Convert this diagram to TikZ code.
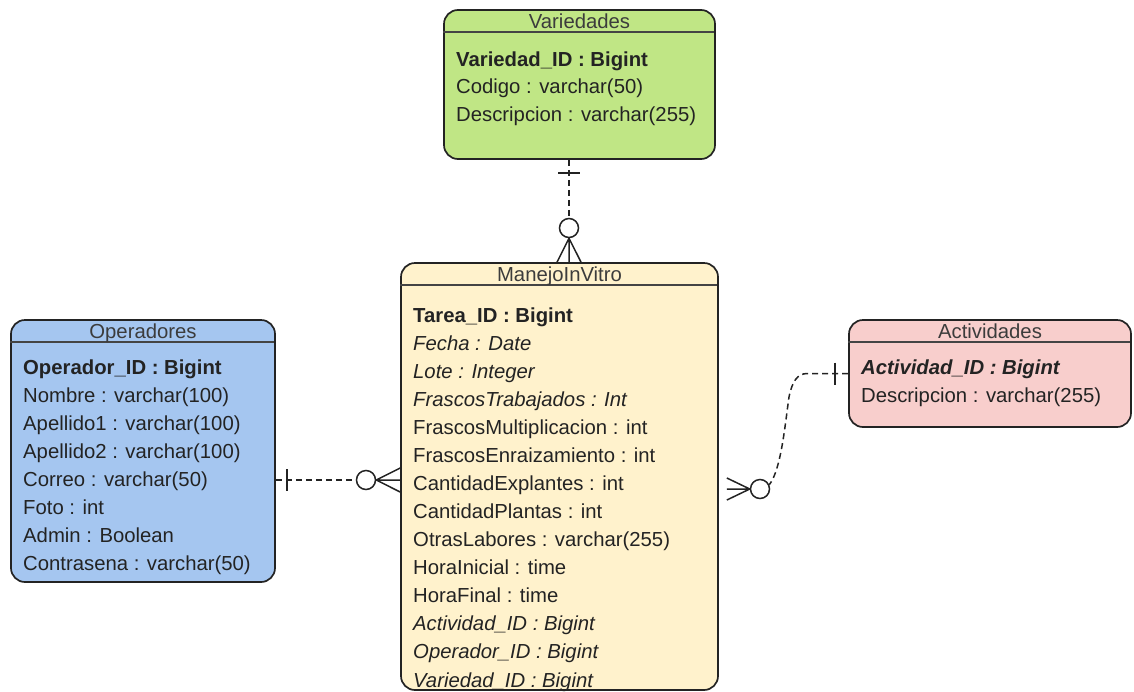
\documentclass[tikz,border=0pt]{standalone}
\usepackage{fontspec}
\setmainfont{Liberation Sans}
\usetikzlibrary{calc}

\definecolor{vgreen}{RGB}{192,230,133}
\definecolor{oblue}{RGB}{165,198,240}
\definecolor{apink}{RGB}{248,206,204}
\definecolor{myellow}{RGB}{255,242,204}
\definecolor{edgec}{RGB}{35,35,35}
\definecolor{fieldc}{RGB}{35,35,35}
\definecolor{titlec}{RGB}{60,60,60}

\newcommand\erfont{\fontsize{20.3}{24}\selectfont}

\begin{document}
\begin{tikzpicture}[x=1pt,y=-1pt,
  entity/.style={draw=edgec, line width=1.7pt, rounded corners=14pt, inner sep=0pt},
  hdrline/.style={draw=edgec!85, line width=2.2pt},
  title/.style={anchor=base, inner sep=0pt, text=titlec, font=\erfont},
  field/.style={anchor=base west, inner sep=0pt, text=fieldc, font=\erfont},
  conn/.style={draw=edgec, line width=1.5pt, dash pattern=on 6pt off 4pt},
  ermark/.style={draw=edgec, line width=1.5pt},
  erbar/.style={draw=edgec, line width=2.2pt},
  erc/.style={circle, draw=edgec, line width=1.5pt, fill=white, inner sep=0pt, minimum size=19pt}]
\useasboundingbox (0,0) rectangle (1134,691);

% entity boxes
\node[entity, fill=vgreen,  minimum width=271pt, minimum height=149pt] (var) at (579.5,84.5) {};
\node[entity, fill=myellow, minimum width=317pt, minimum height=427pt] (man) at (559.5,476.5) {};
\node[entity, fill=oblue,   minimum width=264pt, minimum height=262pt] (op)  at (143,451) {};
\node[entity, fill=apink,   minimum width=282pt, minimum height=107pt] (act) at (990,373.5) {};

% header separators
\foreach \b/\w in {var/271, man/317, op/264, act/282}
  \draw[hdrline] ($(\b.north west)+(0,23.2)$) -- ++(\w,0);

% titles
\node[title] (varT) at (579.5,28)  {Variedades};
\node[title] (manT) at (559.5,281) {ManejoInVitro};
\node[title] (opT)  at (143,338)   {Operadores};
\node[title] (actT) at (990,338)   {Actividades};

% attributes
\foreach \t [count=\i] in {{\textbf{Variedad\_ID : Bigint}},
  {Codigo : varchar(50)}, {Descripcion : varchar(255)}}
  \node[field] (var-\i) at (456,{59+27.6*(\i-1)+7}) {\t};

\foreach \t [count=\i] in {{\textbf{Tarea\_ID : Bigint}},
  {\textit{Fecha : Date}}, {\textit{Lote : Integer}},
  {\textit{FrascosTrabajados : Int}}, {FrascosMultiplicacion : int},
  {FrascosEnraizamiento : int}, {CantidadExplantes : int},
  {CantidadPlantas : int}, {OtrasLabores : varchar(255)},
  {HoraInicial : time}, {HoraFinal : time},
  {\textit{Actividad\_ID : Bigint}}, {\textit{Operador\_ID : Bigint}},
  {\textit{Variedad\_ID : Bigint}}}
  \node[field] (man-\i) at (413,{315+28.08*(\i-1)+7}) {\t};

\foreach \t [count=\i] in {{\textbf{Operador\_ID : Bigint}},
  {Nombre : varchar(100)}, {Apellido1 : varchar(100)},
  {Apellido2 : varchar(100)}, {Correo : varchar(50)}, {Foto : int},
  {Admin : Boolean}, {Contrasena : varchar(50)}}
  \node[field] (op-\i) at (23,{367+28.1*(\i-1)+7}) {\t};

\foreach \t [count=\i] in {{\textbf{\textit{Actividad\_ID : Bigint}}},
  {Descripcion : varchar(255)}}
  \node[field] (act-\i) at (861,{367+28*(\i-1)+7}) {\t};

% Variedades (1) -- (0..n) ManejoInVitro
\node[erc] (c1) at (569,228) {};
\draw[conn] (var.south -| c1) -- (c1.north);
\draw[erbar] ($(var.south -| c1)+(-11,13)$) -- ++(22,0);
\draw[ermark] (c1.south) -- ($(man.north -| c1)+(-12,0)$)
              (c1.south) -- (man.north -| c1)
              (c1.south) -- ($(man.north -| c1)+(12,0)$);

% Operadores (1) -- (0..n) ManejoInVitro
\node[erc] (c2) at (366,480) {};
\draw[conn] (op.east |- c2) -- (c2.west);
\draw[erbar] ($(op.east |- c2)+(11,-11)$) -- ++(0,22);
\draw[ermark] (c2.east) -- ($(man.west |- c2)+(0,-12)$)
              (c2.east) -- (man.west |- c2)
              (c2.east) -- ($(man.west |- c2)+(0,12)$);

% Actividades (1) -- (0..n) ManejoInVitro
\node[erc] (c3) at (760,489) {};
\draw[ermark] (c3.west) -- ($(man.east |- c3)+(8,-11)$)
              (c3.west) -- ($(man.east |- c3)+(8,0)$)
              (c3.west) -- ($(man.east |- c3)+(8,11)$);
\draw[conn] (act.west) -- ++(-41,0) .. controls ++(-10,0) and (792,382) ..
            (789,397) .. controls (785,425) and (781,470) .. (c3.25);
\draw[erbar] ($(act.west)+(-13,-11)$) -- ++(0,22);
\end{tikzpicture}
\end{document}
